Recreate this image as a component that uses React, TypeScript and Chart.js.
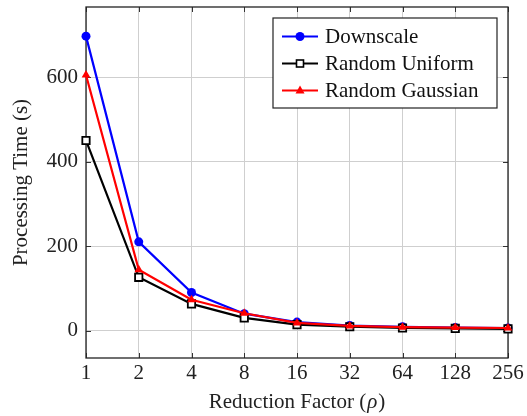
import React, { useEffect, useRef } from "react";
import { Chart, registerables } from "chart.js";

Chart.register(...registerables);

const categories = ["1", "2", "4", "8", "16", "32", "64", "128", "256"];
const downscale = [697, 210, 90, 40, 20, 12, 9, 7, 6];
const randomUniform = [450, 126, 63, 30, 14, 9, 6, 5, 4];
const randomGaussian = [605, 144, 73, 41, 18, 11, 8, 7, 6];
const yTicks = [0, 200, 400, 600];
const seriesNames = ["Downscale", "Random Uniform", "Random Gaussian"];

const FONT = "Liberation Serif, 'Times New Roman', serif";
const FS = 21;

const framePlugin = {
  id: "frame",
  beforeDatasetsDraw(chart: any) {
    const { ctx, chartArea: a, scales } = chart;
    ctx.save();
    ctx.strokeStyle = "#333";
    ctx.lineWidth = 1;
    const tl = 5;
    ctx.beginPath();
    yTicks.forEach((v) => {
      const y = Math.round(scales.y.getPixelForValue(v)) + 0.5;
      ctx.moveTo(a.left, y);
      ctx.lineTo(a.left + tl, y);
      ctx.moveTo(a.right, y);
      ctx.lineTo(a.right - tl, y);
    });
    categories.forEach((_, i) => {
      const x = Math.round(scales.x.getPixelForValue(i)) + 0.5;
      ctx.moveTo(x, a.bottom);
      ctx.lineTo(x, a.bottom - tl);
      ctx.moveTo(x, a.top);
      ctx.lineTo(x, a.top + tl);
    });
    ctx.stroke();
    ctx.strokeStyle = "#222";
    ctx.lineWidth = 1.3;
    ctx.strokeRect(a.left, a.top, a.right - a.left, a.bottom - a.top);
    ctx.restore();
  },
  afterDraw(chart: any) {
    const { ctx, chartArea: a } = chart;
    ctx.save();
    ctx.fillStyle = "#222";
    ctx.font = `${FS}px ${FONT}`;
    ctx.textAlign = "center";
    ctx.textBaseline = "middle";
    ctx.translate(21, (a.top + a.bottom) / 2);
    ctx.rotate(-Math.PI / 2);
    ctx.fillText("Processing Time (s)", 0, 0);
    ctx.restore();

    ctx.save();
    ctx.fillStyle = "#222";
    ctx.textBaseline = "middle";
    ctx.textAlign = "left";
    const p1 = "Reduction Factor (";
    const p2 = "ρ";
    const p3 = ")";
    const nf = `${FS}px ${FONT}`;
    const itf = `italic ${FS}px ${FONT}`;
    ctx.font = nf;
    const w1 = ctx.measureText(p1).width;
    const w3 = ctx.measureText(p3).width;
    ctx.font = itf;
    const w2 = ctx.measureText(p2).width;
    const total = w1 + w2 + w3 + 2;
    let x = (a.left + a.right) / 2 - total / 2;
    const y = 402;
    ctx.font = nf;
    ctx.fillText(p1, x, y);
    x += w1;
    ctx.font = itf;
    ctx.fillText(p2, x + 1, y);
    x += w2 + 2;
    ctx.font = nf;
    ctx.fillText(p3, x, y);
    ctx.restore();

    ctx.save();
    ctx.font = `${FS}px ${FONT}`;
    const maxW = Math.max(...seriesNames.map((s) => ctx.measureText(s).width));
    const boxW = Math.max(224, 9 + 36 + 7 + maxW + 12);
    const boxH = 90;
    const bx = a.right - 11 - boxW;
    const by = a.top + 11;
    ctx.fillStyle = "#fff";
    ctx.fillRect(bx, by, boxW, boxH);
    ctx.strokeStyle = "#222";
    ctx.lineWidth = 1.2;
    ctx.strokeRect(bx, by, boxW, boxH);
    const colors = ["#0000ff", "#000000", "#ff0000"];
    seriesNames.forEach((name, i) => {
      const cy = by + 18.5 + i * 27;
      const lx0 = bx + 9;
      const lx1 = lx0 + 36;
      const mx = (lx0 + lx1) / 2;
      ctx.strokeStyle = colors[i];
      ctx.lineWidth = 2;
      ctx.beginPath();
      ctx.moveTo(lx0, cy);
      ctx.lineTo(lx1, cy);
      ctx.stroke();
      if (i === 0) {
        ctx.fillStyle = colors[0];
        ctx.beginPath();
        ctx.arc(mx, cy, 4.5, 0, Math.PI * 2);
        ctx.fill();
      } else if (i === 1) {
        ctx.fillStyle = "#fff";
        ctx.fillRect(mx - 3.5, cy - 3.5, 7, 7);
        ctx.strokeStyle = "#000";
        ctx.lineWidth = 1.6;
        ctx.strokeRect(mx - 3.5, cy - 3.5, 7, 7);
      } else {
        ctx.fillStyle = colors[2];
        ctx.beginPath();
        ctx.moveTo(mx, cy - 5);
        ctx.lineTo(mx + 4.5, cy + 3);
        ctx.lineTo(mx - 4.5, cy + 3);
        ctx.closePath();
        ctx.fill();
      }
      ctx.fillStyle = "#111";
      ctx.textAlign = "left";
      ctx.textBaseline = "middle";
      ctx.fillText(name, lx1 + 7, cy + 1);
    });
    ctx.restore();
  },
};

export default function App() {
  const ref = useRef<HTMLCanvasElement | null>(null);
  useEffect(() => {
    if (!ref.current) return;
    const chart = new Chart(ref.current, {
      type: "line",
      data: {
        labels: categories,
        datasets: [
          {
            label: seriesNames[0],
            data: downscale,
            borderColor: "#0000ff",
            backgroundColor: "#0000ff",
            pointBackgroundColor: "#0000ff",
            pointBorderColor: "#0000ff",
            pointStyle: "circle",
            pointRadius: 4.5,
            pointBorderWidth: 0,
            borderWidth: 2.2,
            order: 3,
            clip: false as any,
          },
          {
            label: seriesNames[1],
            data: randomUniform,
            borderColor: "#000000",
            backgroundColor: "#000000",
            pointBackgroundColor: "#ffffff",
            pointBorderColor: "#000000",
            pointStyle: "rect",
            pointRadius: 5.2,
            pointBorderWidth: 1.8,
            borderWidth: 2.2,
            order: 2,
            clip: false as any,
          },
          {
            label: seriesNames[2],
            data: randomGaussian,
            borderColor: "#ff0000",
            backgroundColor: "#ff0000",
            pointBackgroundColor: "#ff0000",
            pointBorderColor: "#ff0000",
            pointStyle: "triangle",
            pointRadius: 5,
            pointBorderWidth: 0,
            borderWidth: 2.2,
            order: 1,
            clip: false as any,
          },
        ],
      },
      options: {
        animation: false,
        responsive: false,
        events: [],
        layout: { padding: { top: 5, right: 19, left: 0, bottom: 0 } },
        plugins: {
          legend: { display: false },
          tooltip: { enabled: false },
          title: { display: false },
        },
        elements: { line: { tension: 0 } },
        scales: {
          x: {
            type: "category",
            offset: false,
            grid: { color: "#cfcfcf", lineWidth: 1, drawTicks: false },
            border: { display: false },
            ticks: {
              padding: 3,
              color: "#222",
              font: { family: FONT, size: FS },
              maxRotation: 0,
              autoSkip: false,
            },
            afterFit: (s: any) => {
              s.height = 58;
              s.paddingLeft = 0;
              s.paddingRight = 0;
            },
          },
          y: {
            type: "linear",
            min: -65,
            max: 766,
            grid: { color: "#cfcfcf", lineWidth: 1, drawTicks: false },
            border: { display: false },
            ticks: {
              padding: 8,
              color: "#222",
              font: { family: FONT, size: FS },
            },
            afterBuildTicks: (s: any) => {
              s.ticks = yTicks.map((v) => ({ value: v }));
            },
            afterFit: (s: any) => {
              s.width = 86;
              s.paddingTop = 0;
              s.paddingBottom = 0;
            },
          },
        },
      },
      plugins: [framePlugin],
    });
    return () => chart.destroy();
  }, []);
  return (
    <div style={{ position: "fixed", left: 0, top: 0, width: 527, height: 416, background: "#fff" }}>
      <canvas ref={ref} width={527} height={416} style={{ display: "block" }} />
    </div>
  );
}
